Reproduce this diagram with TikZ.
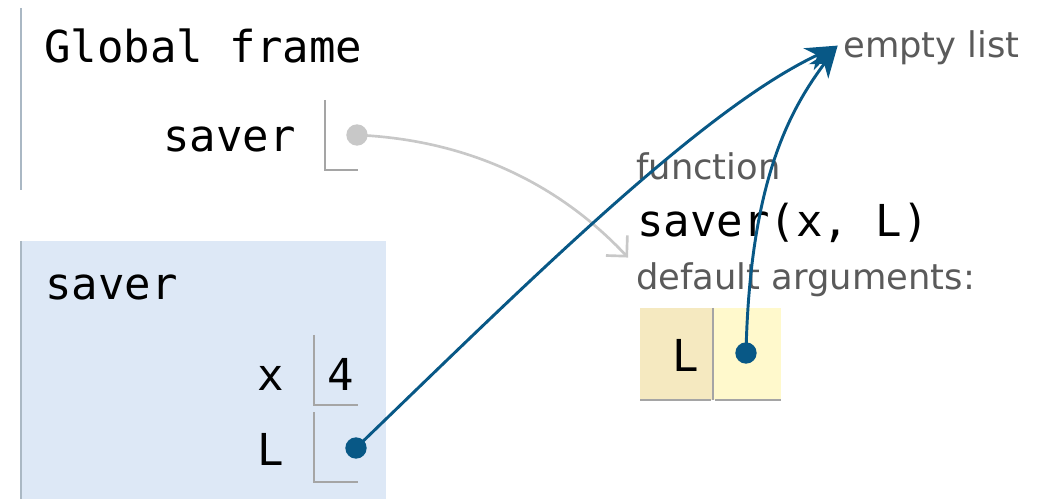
\documentclass[tikz,border=0pt]{standalone}
\usepackage{fontspec}
\setmainfont{DejaVu Sans}
\setmonofont{DejaVu Sans Mono}
\usetikzlibrary{arrows.meta}
\definecolor{ptr}{RGB}{8,88,134}
\definecolor{frameblue}{RGB}{221,232,246}
\definecolor{frameedge}{RGB}{170,184,196}
\definecolor{bindline}{RGB}{165,165,165}
\definecolor{labelgray}{RGB}{90,90,90}
\definecolor{keyfill}{RGB}{245,233,192}
\definecolor{valfill}{RGB}{255,249,204}
\definecolor{grayptr}{RGB}{200,200,200}
\tikzset{
  monotext/.style={inner sep=0pt, font=\ttfamily\fontsize{33}{39}\selectfont},
  sanstext/.style={inner sep=0pt, text=labelgray, font=\fontsize{26.5}{31}\selectfont},
  binding/.style={draw=bindline, line width=1.5pt},
  dot/.style={circle, inner sep=0pt, minimum size=16pt},
  refarrow/.style={draw=ptr, line width=2.2pt, -{Stealth[length=24pt,width=18pt,inset=7pt]}},
  funcarrow/.style={draw=grayptr, line width=2pt, -{Straight Barb[length=11pt,width=22pt,line width=2pt]}}
}
\begin{document}
\begin{tikzpicture}[x=0.75pt, y=-0.75pt]
\path[use as bounding box] (0,0) rectangle (1040,499);

% global frame
\draw[frameedge, line width=1.8pt] (21,8) -- (21,190);
\node[monotext, anchor=base west] (gtitle) at (44,63) {Global frame};
\node[monotext, anchor=base east] (gsaver) at (296,152) {saver};
\draw[binding] (325,100) -- (325,170) -- (358,170);
\node[dot, fill=grayptr] (gdot) at (357,135) {};

% call frame for saver
\fill[frameblue] (20,241) rectangle (386,499);
\draw[frameedge, line width=1.8pt] (21,241) -- (21,499);
\node[monotext, anchor=base west] (ftitle) at (45,300) {saver};
\node[monotext, anchor=base east] (fx) at (284,390) {x};
\draw[binding] (314,335) -- (314,405) -- (358,405);
\node[monotext, anchor=base west] (fxval) at (327,390) {4};
\node[monotext, anchor=base east] (fL) at (284,465) {L};
\draw[binding] (314,412) -- (314,482) -- (358,482);
\node[dot, fill=ptr] (fdot) at (356,448) {};

% function object
\node[sanstext, anchor=base west] (fnlabel) at (636,180) {function};
\node[monotext, anchor=base west] (fnsig) at (637,237) {saver(x, L)};
\node[sanstext, anchor=base west] (fndefaults) at (636,290) {default arguments:};
\fill[keyfill] (640,308) rectangle (712,400);
\fill[valfill] (714,308) rectangle (781,400);
\draw[bindline, line width=1.8pt] (713,308) -- (713,400);
\draw[bindline, line width=1.8pt] (640,400) -- (711,400) (715,400) -- (781,400);
\node[monotext, anchor=base] (defkey) at (686,372) {L};
\node[dot, fill=ptr] (defdot) at (746,353) {};

% empty list
\node[sanstext, anchor=base west] (emptylist) at (843,58) {empty list};

% pointers
\draw[funcarrow] (gdot.center) .. controls (470,140) and (560,185) .. ([xshift=-6pt,yshift=4pt]fndefaults.north west);
\draw[refarrow] (fdot.center) .. controls (520,290) and (700,110) .. ([xshift=-4pt,yshift=2pt]emptylist.west);
\draw[refarrow] (defdot.center) .. controls (750,180) and (790,110) .. ([xshift=-4pt,yshift=2pt]emptylist.west);
\end{tikzpicture}
\end{document}
